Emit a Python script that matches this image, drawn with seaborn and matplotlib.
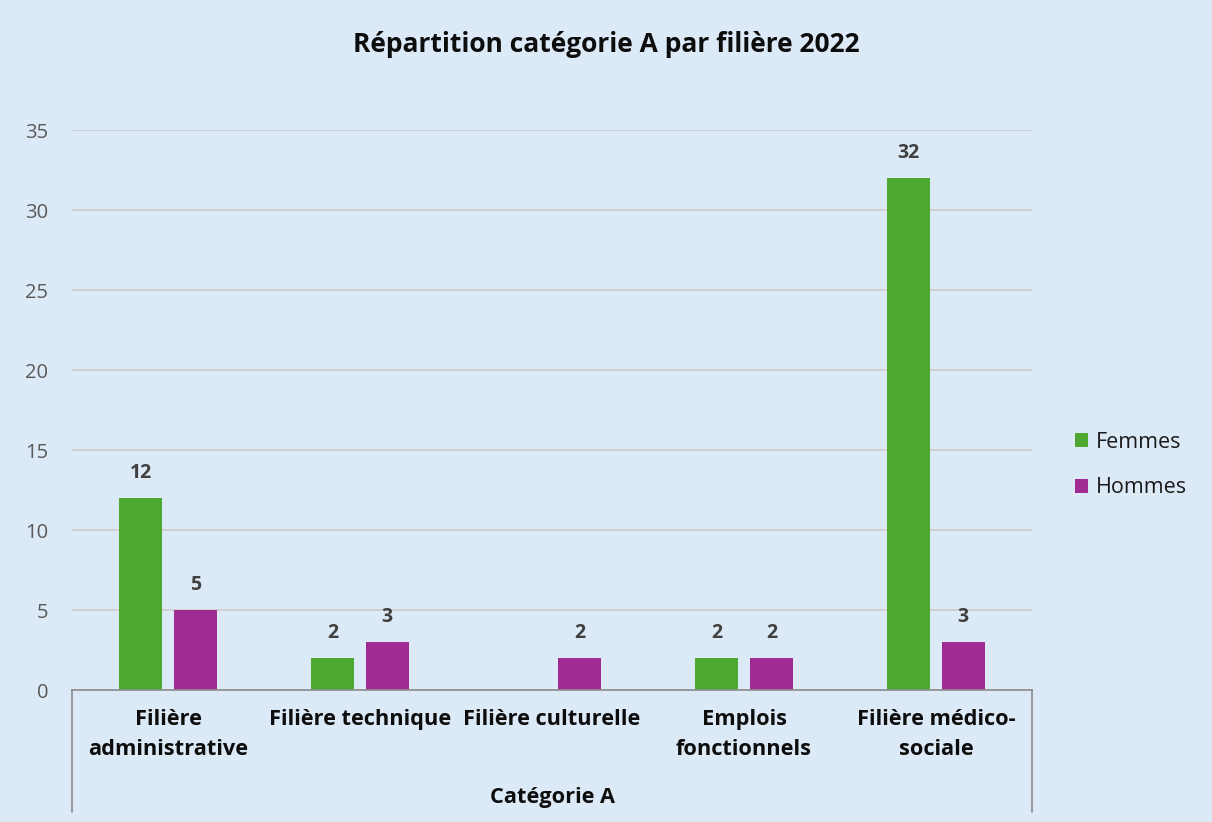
import matplotlib
matplotlib.use("Agg")
import matplotlib.pyplot as plt
import seaborn as sns
import pandas as pd
from matplotlib.patches import Patch
from matplotlib.lines import Line2D

categories = ["Filière\nadministrative", "Filière technique", "Filière culturelle",
              "Emplois\nfonctionnels", "Filière médico-\nsociale"]
femmes = [12, 2, 0, 2, 32]
hommes = [5, 3, 2, 2, 3]
series = ["Femmes", "Hommes"]
yticks = [0, 5, 10, 15, 20, 25, 30, 35]
group_label = "Catégorie A"
title = "Répartition catégorie A par filière 2022"

colors = ["#4ea72e", "#a02b93"]
bg = "#dce9f6"

df = pd.DataFrame({
    "cat": categories * 2,
    "serie": [series[0]] * len(categories) + [series[1]] * len(categories),
    "val": femmes + hommes,
})

sns.set_theme(style="white")
plt.rcParams["font.family"] = ["Open Sans", "DejaVu Sans"]

fig = plt.figure(figsize=(12.12, 8.22), dpi=100, facecolor=bg)
ax = fig.add_axes([72 / 1212, 1 - 690 / 822, 960 / 1212, 560 / 822])
ax.set_facecolor(bg)

sns.barplot(data=df, x="cat", y="val", hue="serie", hue_order=series,
            order=categories, palette=colors, width=0.57, gap=0.214,
            saturation=1, linewidth=0, edgecolor="none", ax=ax, legend=False)

ax.set_ylim(0, 35)
ax.set_xlim(-0.5, len(categories) - 0.5)
ax.set_yticks(yticks)
ax.yaxis.grid(True, color="#cccccc", linewidth=1.2)
ax.set_axisbelow(True)
for s in ["top", "right", "left"]:
    ax.spines[s].set_visible(False)
ax.spines["bottom"].set_color("#8c8c8c")
ax.spines["bottom"].set_linewidth(1.2)
ax.tick_params(axis="y", length=0, pad=17, labelsize=14.5, labelcolor="#595959")
ax.tick_params(axis="x", length=0, pad=13.5, labelsize=15.7, labelcolor="#0d0d0d")
for lbl in ax.get_xticklabels():
    lbl.set_fontweight("bold")
    lbl.set_linespacing(1.55)
ax.set_xlabel("")
ax.set_ylabel("")

# data labels
for container, vals in zip(ax.containers, [femmes, hommes]):
    labels = [str(v) if v != 0 else "" for v in vals]
    ax.bar_label(container, labels=labels, padding=11, fontsize=14,
                 fontweight="bold", color="#404040")

# group axis lines
for xa in [0, 1]:
    ax.add_line(Line2D([xa, xa], [0, -(812 - 690) / 560], transform=ax.transAxes,
                       color="#8c8c8c", linewidth=1.2, clip_on=False))
ax.text(0.5, -(797 - 690) / 560, group_label, transform=ax.transAxes,
        ha="center", va="center", fontsize=15.7, fontweight="bold", color="#0d0d0d")

fig.text(0.5, 1 - 45 / 822, title, ha="center", va="center",
         fontsize=19, fontweight="bold", color="#0d0d0d")

handles = [Patch(facecolor=c, edgecolor="none") for c in colors]
fig.legend(handles, series, loc="center left", bbox_to_anchor=(1056 / 1212, 1 - 465 / 822),
           frameon=False, fontsize=15.5, handlelength=0.6, handleheight=0.6,
           handletextpad=0.35, labelspacing=1.15, labelcolor="#1a1a1a")

fig.savefig("out.png", dpi=100, facecolor=bg)
